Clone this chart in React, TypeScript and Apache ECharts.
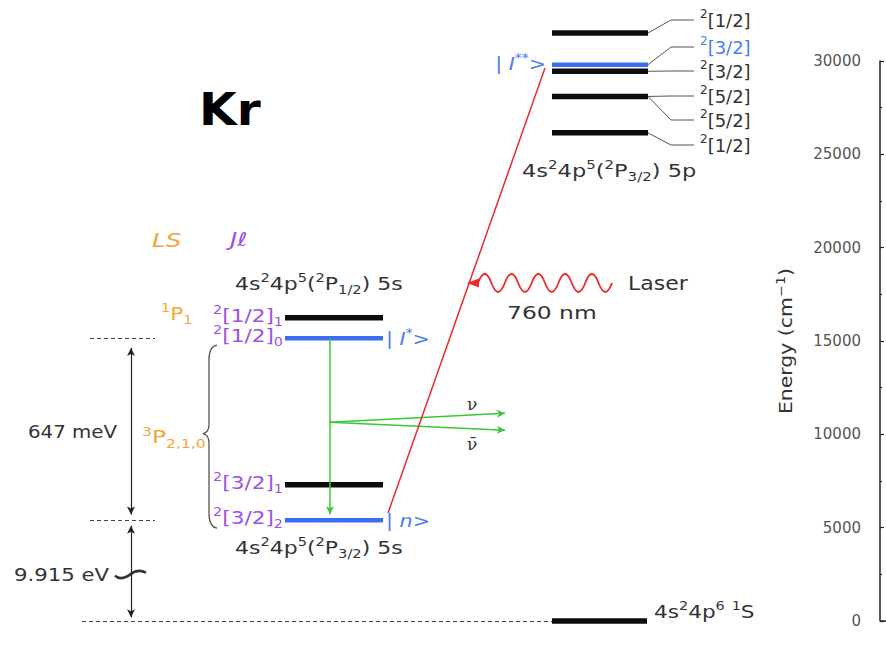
import React, { useEffect, useRef } from 'react';
import * as echarts from 'echarts';

// ---------------- data (energies in cm^-1, read against the right-hand axis) ----------------
const energyTicks = [0, 5000, 10000, 15000, 20000, 25000, 30000];
const groundEnergy = 0;
// 4s2 4p5 5s levels : 2[3/2]2, 2[3/2]1, 2[1/2]0, 2[1/2]1
const s5Energies = [5400, 7300, 15150, 16250];
const s5K = ['3/2', '3/2', '1/2', '1/2'];
const s5J = ['2', '1', '0', '1'];
const s5Used = [true, false, true, false];
const s5Kets = ['n', '', 'I*', ''];
// 4s2 4p5(2P3/2) 5p levels
const p5Energies = [26150, 28100, 29450, 29800, 31500];
const p5Used = [false, false, false, true, false];
const p5Kets = ['', '', '', 'I**', ''];
// labels of the 5p manifold, bottom -> top, and the level each one belongs to
const p5LabelK = ['1/2', '5/2', '5/2', '3/2', '3/2', '1/2'];
const p5LabelLevel = [0, 1, 1, 2, 3, 4];
const p5LabelUsed = [false, false, false, false, true, false];
const gapLabels = ['647 meV', '9.915 eV'];
const neutrinoLabels = ['ν', 'ν\u0304'];
const laserLabels = ['Laser', '760 nm'];

// ---------------- layout / style ----------------
const FONT = 'DejaVu Sans';
const C = {
  black: '#0d0d0d',
  blue: '#3b6cf2',
  blueText: '#4a7cf4',
  purple: '#9d52e6',
  orange: '#f5a33c',
  green: '#37c837',
  red: '#ec2828',
  text: '#333333',
  gray: '#555555',
  axis: '#222222',
};
const S5_X = [285, 383];
const P5_X = [552, 648];
const GROUND_X = [552, 647];
const SLOT_Y = [145, 120, 96, 71, 47, 20];
const NU_E = 10650;

const cfg = (core: string, shell: string) =>
  `{n|4s}{p|2}{n|4p}{p|5}{n|(}{p|2}{n|P}{b|${core}}{n|) ${shell}}`;
const ket = (k: string) => {
  const base = k.replace(/\*/g, '');
  const stars = k.slice(base.length);
  return `{n||}{i| ${base}}` + (stars ? `{p|${stars}}` : '') + '{n|>}';
};

function txt(x: number, y: number, s: string, o: any = {}) {
  const size = o.size ?? 18;
  const color = o.color ?? C.text;
  const fam = o.family ?? FONT;
  const sm = Math.round(size * 0.68);
  const style: any = {
    text: s,
    fill: color,
    fontSize: size,
    fontFamily: fam,
    fontWeight: o.weight ?? 'normal',
    fontStyle: o.italic ? 'italic' : 'normal',
    textAlign: o.align ?? 'left',
    textVerticalAlign: 'middle',
  };
  if (s.indexOf('{') >= 0) {
    style.rich = {
      n: { fill: color, fontSize: size, fontFamily: fam, lineHeight: size + 6 },
      i: { fill: color, fontSize: size, fontFamily: fam, fontStyle: 'italic', lineHeight: size + 6 },
      p: { fill: color, fontSize: sm, fontFamily: fam, lineHeight: sm + 2, verticalAlign: 'top' },
      b: { fill: color, fontSize: sm, fontFamily: fam, lineHeight: sm, verticalAlign: 'bottom' },
    };
  }
  return { type: 'text', x, y, scaleX: o.sx ?? 1.2, rotation: o.rot ?? 0, silent: true, z: 20, style };
}

function wavePath(x0: number, y0: number, half: number, n: number, amp: number) {
  let d = `M${x0},${y0}`;
  for (let k = 0; k < n; k++) {
    const s = k % 2 === 0 ? -1 : 1;
    const xa = x0 + half * k;
    d += ` C${xa + half * 0.33},${y0 + s * amp * 1.33} ${xa + half * 0.67},${y0 + s * amp * 1.33} ${xa + half},${y0}`;
  }
  return d;
}

function levelSeries(x: number[], e: number, used: boolean) {
  return {
    type: 'line',
    data: [[x[0], e], [x[1], e]],
    symbol: 'none',
    showSymbol: false,
    clip: false,
    silent: true,
    z: 2,
    lineStyle: { color: used ? C.blue : C.black, width: used ? 4.5 : 5.5, cap: 'butt' },
  };
}

function buildOption() {
  const dash = { type: [4, 3], color: '#444', width: 1 };
  const grey = { color: C.axis, width: 1.2, type: 'solid' };
  const green = { color: C.green, width: 1.5, type: 'solid' };
  const red = { color: C.red, width: 1.5, type: 'solid' };
  const e = s5Energies;
  const transitions = [
    [{ coord: [90, e[2]], lineStyle: dash }, { coord: [155, e[2]] }],
    [{ coord: [90, e[0]], lineStyle: dash }, { coord: [155, e[0]] }],
    [{ coord: [82, groundEnergy], lineStyle: dash }, { coord: [GROUND_X[0], groundEnergy] }],
    [{ coord: [131, e[2] - 520], symbol: 'arrow', lineStyle: grey }, { coord: [131, e[0] + 300], symbol: 'arrow' }],
    [{ coord: [131, e[0] - 300], symbol: 'arrow', lineStyle: grey }, { coord: [131, groundEnergy + 200], symbol: 'arrow' }],
    [{ coord: [330, e[2]], lineStyle: green }, { coord: [330, e[0] + 320], symbol: 'arrow' }],
    [{ coord: [330, NU_E], lineStyle: green }, { coord: [505, NU_E + 480], symbol: 'arrow' }],
    [{ coord: [330, NU_E], lineStyle: green }, { coord: [505, NU_E - 430], symbol: 'arrow' }],
    [{ coord: [388, e[0] + 380], lineStyle: red }, { coord: [545, p5Energies[3] - 180] }],
  ];

  const series: any[] = [];
  s5Energies.forEach((en, i) => series.push(levelSeries(S5_X, en, s5Used[i])));
  p5Energies.forEach((en, i) => series.push(levelSeries(P5_X, en, p5Used[i])));
  const ground: any = levelSeries(GROUND_X, groundEnergy, false);
  ground.z = 4;
  ground.markLine = {
    silent: true,
    animation: false,
    symbol: ['none', 'none'],
    symbolSize: [6, 8],
    label: { show: false },
    lineStyle: { type: 'solid', width: 1 },
    data: transitions,
  };
  series.push(ground);

  return {
    animation: false,
    backgroundColor: '#ffffff',
    grid: { left: 0, right: 6, top: 61, bottom: 48, containLabel: false, outerBoundsMode: 'none' },
    xAxis: { type: 'value', min: 0, max: 880, show: false },
    yAxis: {
      type: 'value',
      position: 'right',
      min: energyTicks[0],
      max: energyTicks[energyTicks.length - 1],
      interval: energyTicks[1] - energyTicks[0],
      axisLine: { show: true, onZero: false, lineStyle: { color: C.axis, width: 1.5 } },
      axisTick: { show: true, inside: false, length: 4, lineStyle: { color: C.axis, width: 1.2 } },
      minorTick: { show: true, splitNumber: 2, length: 2, lineStyle: { color: C.axis, width: 1 } },
      splitLine: { show: false },
      axisLabel: {
        inside: true,
        margin: 19,
        color: '#555',
        fontSize: 15,
        fontFamily: FONT,
        formatter: (v: number) => String(v),
      },
    },
    series,
  };
}

function buildGraphics(toY: (e: number) => number) {
  const g: any[] = [];
  const yS = s5Energies.map(toY);
  const yP = p5Energies.map(toY);
  const y0 = toY(groundEnergy);
  const yTop = toY(energyTicks[energyTicks.length - 1]);

  // shapes that depend on level positions
  const t = yS[2] + 7;
  const b = yS[0] + 8;
  const m = (t + b) / 2 - 3;
  const brace = `M217,${t} C211,${t + 1} 209,${t + 6} 209,${t + 15} L209,${m - 9} C209,${m - 3} 207,${m - 1} 203,${m} C207,${m + 1} 209,${m + 3} 209,${m + 9} L209,${b - 15} C209,${b - 6} 211,${b - 1} 217,${b}`;
  echarts.graphic.registerShape('krBrace', echarts.graphic.extendPath(brace, {}) as any);
  const yb = (yS[0] + y0) / 2 + 3;
  const brk = `M115,${yb + 2} C119,${yb + 6} 124,${yb + 5} 130,${yb + 1} C135,${yb - 3} 140,${yb - 4} 146,${yb - 1}`;
  echarts.graphic.registerShape('krBreak', echarts.graphic.extendPath(brk, {}) as any);
  echarts.graphic.registerShape('krWave', echarts.graphic.extendPath(wavePath(478, 283, 13.4, 10, 9), {}) as any);

  g.push({ type: 'krBrace', x: 0, y: 0, silent: true, style: { stroke: C.gray, lineWidth: 1.3, fill: 'none' } });
  g.push({ type: 'krBreak', x: 0, y: 0, silent: true, style: { stroke: '#333', lineWidth: 2.6, fill: 'none' } });
  g.push({ type: 'krWave', x: 0, y: 0, silent: true, style: { stroke: C.red, lineWidth: 1.8, fill: 'none' } });
  g.push({ type: 'polygon', silent: true, shape: { points: [[467, 283], [479, 278.5], [479, 287.5]] }, style: { fill: C.red } });
  g.push({ type: 'line', silent: true, shape: { x1: 880, y1: y0, x2: 886, y2: y0 }, style: { stroke: C.axis, lineWidth: 1.5 } });

  // energy axis title
  g.push(txt(786, (y0 + yTop) / 2, '{n|Energy (cm}{p|−1}{n|)}', { size: 17, sx: 1.2, rot: Math.PI / 2, align: 'center' }));

  // connectors of the 5p labels
  SLOT_Y.forEach((sy, i) => {
    const ly = yP[p5LabelLevel[i]];
    g.push({
      type: 'polyline',
      silent: true,
      shape: { points: [[P5_X[1], ly], [671, sy], [694, sy]] },
      style: { stroke: C.gray, lineWidth: 1, fill: 'none' },
    });
    g.push(txt(700, sy, `{p|2}{n|[${p5LabelK[i]}]}`, { color: p5LabelUsed[i] ? C.blueText : C.text, sx: 1.0 }));
  });

  // title and scheme headers
  g.push(txt(199, 110, 'Kr', { size: 45, weight: 'bold', color: '#000', sx: 1.08 }));
  g.push(txt(152, 241, '{i|LS}', { size: 19, color: C.orange, sx: 1.3 }));
  g.push(txt(230, 240, '{i|Jℓ}', { size: 19, color: C.purple, sx: 1.3 }));

  // configurations
  g.push(txt(235, yS[3] - 34, cfg('1/2', '5s'), { sx: 1.22 }));
  g.push(txt(235, yS[0] + 28, cfg('3/2', '5s'), { sx: 1.22 }));
  g.push(txt(522, yP[0] + 38, cfg('3/2', '5p'), { sx: 1.25 }));
  g.push(txt(654, y0 - 9, '{n|4s}{p|2}{n|4p}{p|6}{n| }{p|1}{n|S}', { sx: 1.2 }));

  // 5s level labels and kets
  s5Energies.forEach((_, i) => {
    g.push(txt(283, yS[i] - 2, `{p|2}{n|[${s5K[i]}]}{b|${s5J[i]}}`, { align: 'right', color: C.purple, sx: 1.2 }));
    if (s5Kets[i]) g.push(txt(386, yS[i] + 1, ket(s5Kets[i]), { color: C.blueText, sx: 1.15 }));
  });
  p5Energies.forEach((_, i) => {
    if (p5Kets[i]) g.push(txt(546, yP[i] - 1, ket(p5Kets[i]), { color: C.blueText, sx: 1.15, align: 'right' }));
  });

  // LS terms
  g.push(txt(161, yS[3] - 4, '{p|1}{n|P}{b|1}', { color: C.orange, sx: 1.2 }));
  g.push(txt(142, (yS[2] + yS[0]) / 2 + 8, '{p|3}{n|P}{b|2,1,0}', { color: C.orange, sx: 1.3 }));

  // energy gaps
  g.push(txt(28, (yS[2] + yS[0]) / 2 + 2, gapLabels[0], { sx: 1.1 }));
  g.push(txt(14, yb + 1, gapLabels[1], { sx: 1.18 }));

  // neutrinos and laser
  g.push(txt(467, 404, neutrinoLabels[0], { family: 'DejaVu Serif', size: 17, sx: 1 }));
  g.push(txt(467, 444, neutrinoLabels[1], { family: 'DejaVu Serif', size: 17, sx: 1 }));
  g.push(txt(628, 283, laserLabels[0], { size: 20, sx: 1.1 }));
  g.push(txt(507, 313, laserLabels[1], { sx: 1.3 }));
  return g;
}

export default function App() {
  const ref = useRef<HTMLDivElement>(null);
  useEffect(() => {
    const el = ref.current;
    if (!el) return;
    const chart = echarts.init(el, null, { renderer: 'svg' });
    chart.setOption(buildOption() as any);
    const toY = (e: number) => (chart.convertToPixel({ gridIndex: 0 } as any, [0, e]) as any)[1] as number;
    chart.setOption({ graphic: { elements: buildGraphics(toY) } } as any);
    return () => chart.dispose();
  }, []);
  return (
    <div
      ref={ref}
      style={{ position: 'absolute', left: 0, top: 0, width: 886, height: 669, background: '#fff' }}
    />
  );
}
